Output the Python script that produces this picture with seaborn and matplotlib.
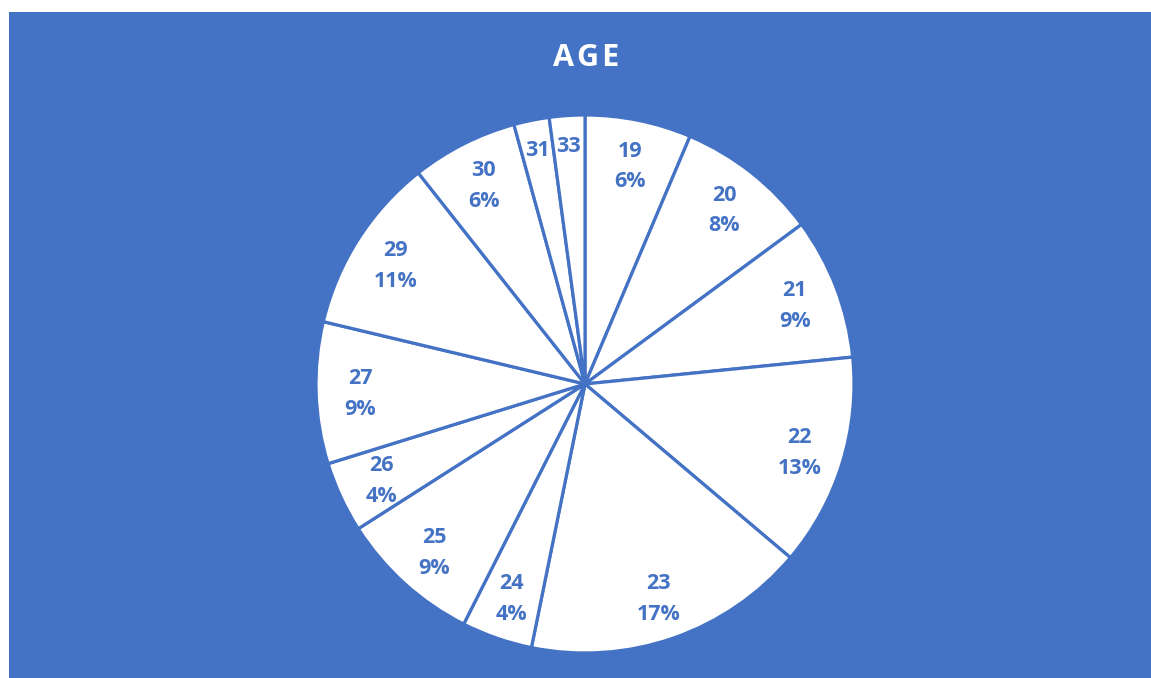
import numpy as np
import matplotlib
matplotlib.use("Agg")
import matplotlib.pyplot as plt
from matplotlib.patches import Rectangle
import seaborn as sns

# ---- data ----
ages = ["19", "20", "21", "22", "23", "24", "25", "26", "27", "29", "30", "31", "33"]
counts = [3, 4, 4, 6, 8, 2, 4, 2, 4, 5, 3, 1, 1]
pct_labels = ["6%", "8%", "9%", "13%", "17%", "4%", "9%", "4%", "9%", "11%", "6%", "", ""]
title = "AGE"

BLUE = "#4472C4"

sns.set_style("white")
plt.rcParams["font.family"] = ["Open Sans", "DejaVu Sans"]

W, H = 1151, 678
fig = plt.figure(figsize=(W / 100, H / 100), dpi=100)
fig.patch.set_facecolor("white")
fig.add_artist(Rectangle((9 / W, 0), 1 - 9 / W, (H - 12) / H, transform=fig.transFigure,
                         facecolor=BLUE, edgecolor="none", zorder=0))

cx, cy, R = 585, 384, 269
ax = fig.add_axes([(cx - R) / W, (H - cy - R) / H, 2 * R / W, 2 * R / H])
ax.set_facecolor("none")
ax.patch.set_alpha(0)

wedges, _ = ax.pie(counts, startangle=90, counterclock=False, colors=["white"] * len(counts),
                   wedgeprops=dict(edgecolor=BLUE, linewidth=2.3), radius=1)
ax.set_xlim(-1, 1)
ax.set_ylim(-1, 1)
ax.set_aspect("equal")
ax.axis("off")

for w, age, pct in zip(wedges, ages, pct_labels):
    th = np.deg2rad((w.theta1 + w.theta2) / 2)
    if pct:
        r = 0.835
        txt = f"{age}\n{pct}"
    else:
        r = 0.895
        txt = age
    x, y = r * np.cos(th), r * np.sin(th)
    ax.text(x, y - 0.01, txt, ha="center", va="center",
            color=BLUE, fontsize=15.5, fontweight="bold", linespacing=1.6)

fig.text(586 / W, 1 - 58 / H, "\u200a".join(title), ha="center", va="center", color="white",
         fontsize=22, fontweight="bold")

fig.savefig("out.png", dpi=100, facecolor=fig.get_facecolor())
